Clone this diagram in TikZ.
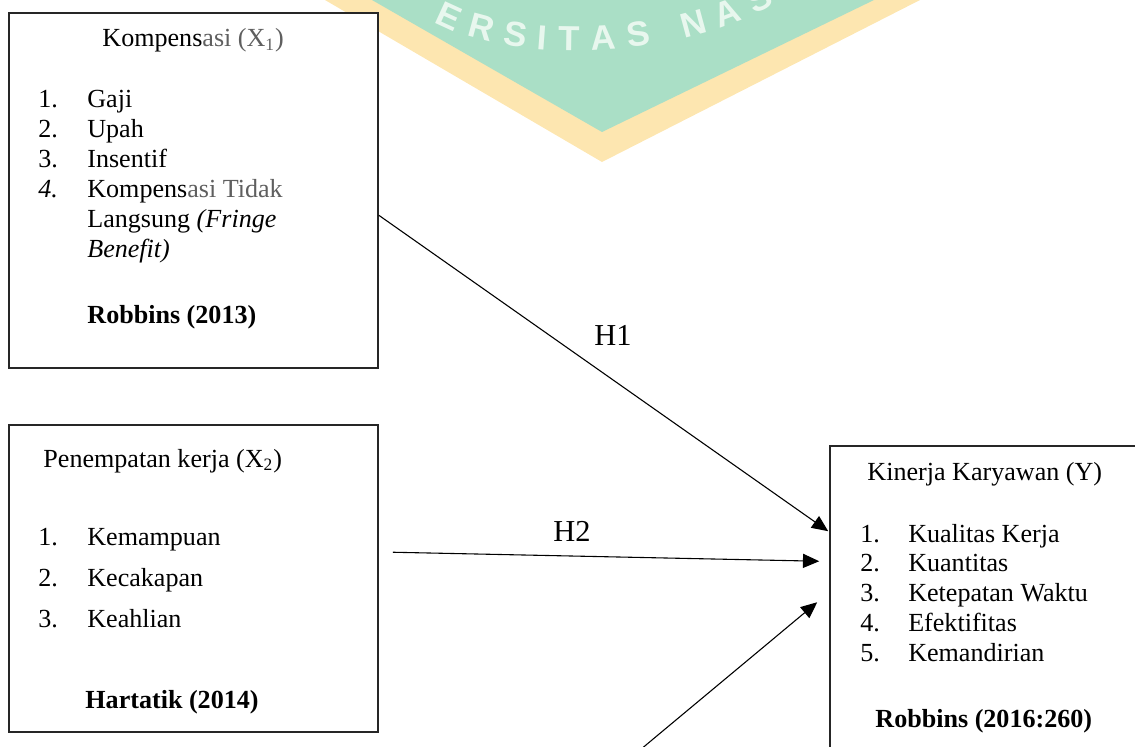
\documentclass[tikz,border=0pt]{standalone}
\usepackage{fontspec}
\setmainfont{Liberation Serif}
\setsansfont{Liberation Sans}
\usepackage{tikz}
\usetikzlibrary{positioning,calc,arrows.meta,decorations.text}
\tikzset{
  box/.style   = {draw=black!85, line width=0.7pt, fill=white, rectangle,
                  inner sep=0pt},
  txt/.style   = {inner sep=0pt, anchor=base west,
                  font=\fontsize{12}{13.8}\selectfont},
  source/.style = {txt, font=\fontsize{12}{13.8}\selectfont\bfseries},
  hyp/.style   = {inner sep=0pt, font=\fontsize{14}{16}\selectfont},
  post/.style  = {-{Triangle[length=7.5pt,width=6.5pt]}, line width=0.5pt}
}
\definecolor{wmgreen}{RGB}{170,223,198}
\definecolor{wmorange}{RGB}{253,230,176}
\definecolor{wmtext}{RGB}{232,247,238}
\definecolor{greytext}{RGB}{95,95,95}
\newcommand{\pxl}{0.46pt}

\begin{document}
\begin{tikzpicture}[x=0.46pt, y=-0.46pt]
  \useasboundingbox (0,0) rectangle (1135,747);
  \clip (0,0) rectangle (1135,747);

  % watermark behind everything
  \fill[wmorange] (325,0) -- (602,162) -- (920,0) -- cycle;
  \fill[wmgreen] (372,0) -- (602,132) -- (874,0) -- cycle;
  \path[decorate, decoration={text along path, text align=fit to path,
        text={|\fontsize{16}{16}\selectfont\sffamily\bfseries\color{wmtext}|ERSITAS NAS}}]
        (434,22) .. controls (510,64) and (670,62) .. (775,4);

  % boxes
  \node[box, minimum width=369*\pxl, minimum height=355*\pxl] (komp) at (193.5,190.5) {};
  \node[box, minimum width=369*\pxl, minimum height=307*\pxl] (penem) at (193.5,578.5) {};
  \node[box, minimum width=330*\pxl, minimum height=330*\pxl] (kin) at (995,611) {};

  % Kompensasi
  \node[txt] (kompT) at (102,47) {Kompens{\color{greytext}asi (X\textsubscript{1})}};
  \node[txt] (kompL) at (38,108) {\begin{tabular}[t]{@{}p{22.5pt}@{}l@{}}
      1. & Gaji\\
      2. & Upah\\
      3. & Insentif\\
      \textit{4.} & Kompens{\color{greytext}asi Tidak}\\
         & Langsung \textit{(Fringe}\\
         & \textit{Benefit)}
    \end{tabular}};
  \node[source] (kompR) at (87,323) {Robbins (2013)};

  % Penempatan kerja
  \node[txt] (penemT) at (43,467) {Penempatan kerja (X\textsubscript{2})};
  \node[txt] (penemL) at (38,545) {\renewcommand{\arraystretch}{1.37}%
    \begin{tabular}[t]{@{}p{22.5pt}@{}l@{}}
      1. & Kemampuan\\
      2. & Kecakapan\\
      3. & Keahlian
    \end{tabular}};
  \node[source] (penemR) at (85,708) {Hartatik (2014)};

  % Kinerja Karyawan
  \node[txt] (kinT) at (867,480) {Kinerja Karyawan (Y)};
  \node[txt] (kinL) at (860,542) {\begin{tabular}[t]{@{}p{22pt}@{}l@{}}
      1. & Kualitas Kerja\\
      2. & Kuantitas\\
      3. & Ketepatan Waktu\\
      4. & Efektifitas\\
      5. & Kemandirian
    \end{tabular}};
  \node[source] (kinR) at (875,727) {Robbins (2016:260)};

  % hypotheses
  \node[hyp] (h1) at (613,335) {H1};
  \node[hyp] (h2) at (572,531) {H2};
  \coordinate (h3from) at (628,760);

  \draw[post] ($(komp.north east)+(0,203)$) -- ($(kin.north west)+(-1,86)$);
  \draw[post] ($(penem.north east)+(14,128)$) -- ($(kin.north west)+(-10,116)$);
  \draw[post] (h3from) -- ($(kin.north west)+(-12,157)$);
\end{tikzpicture}
\end{document}
